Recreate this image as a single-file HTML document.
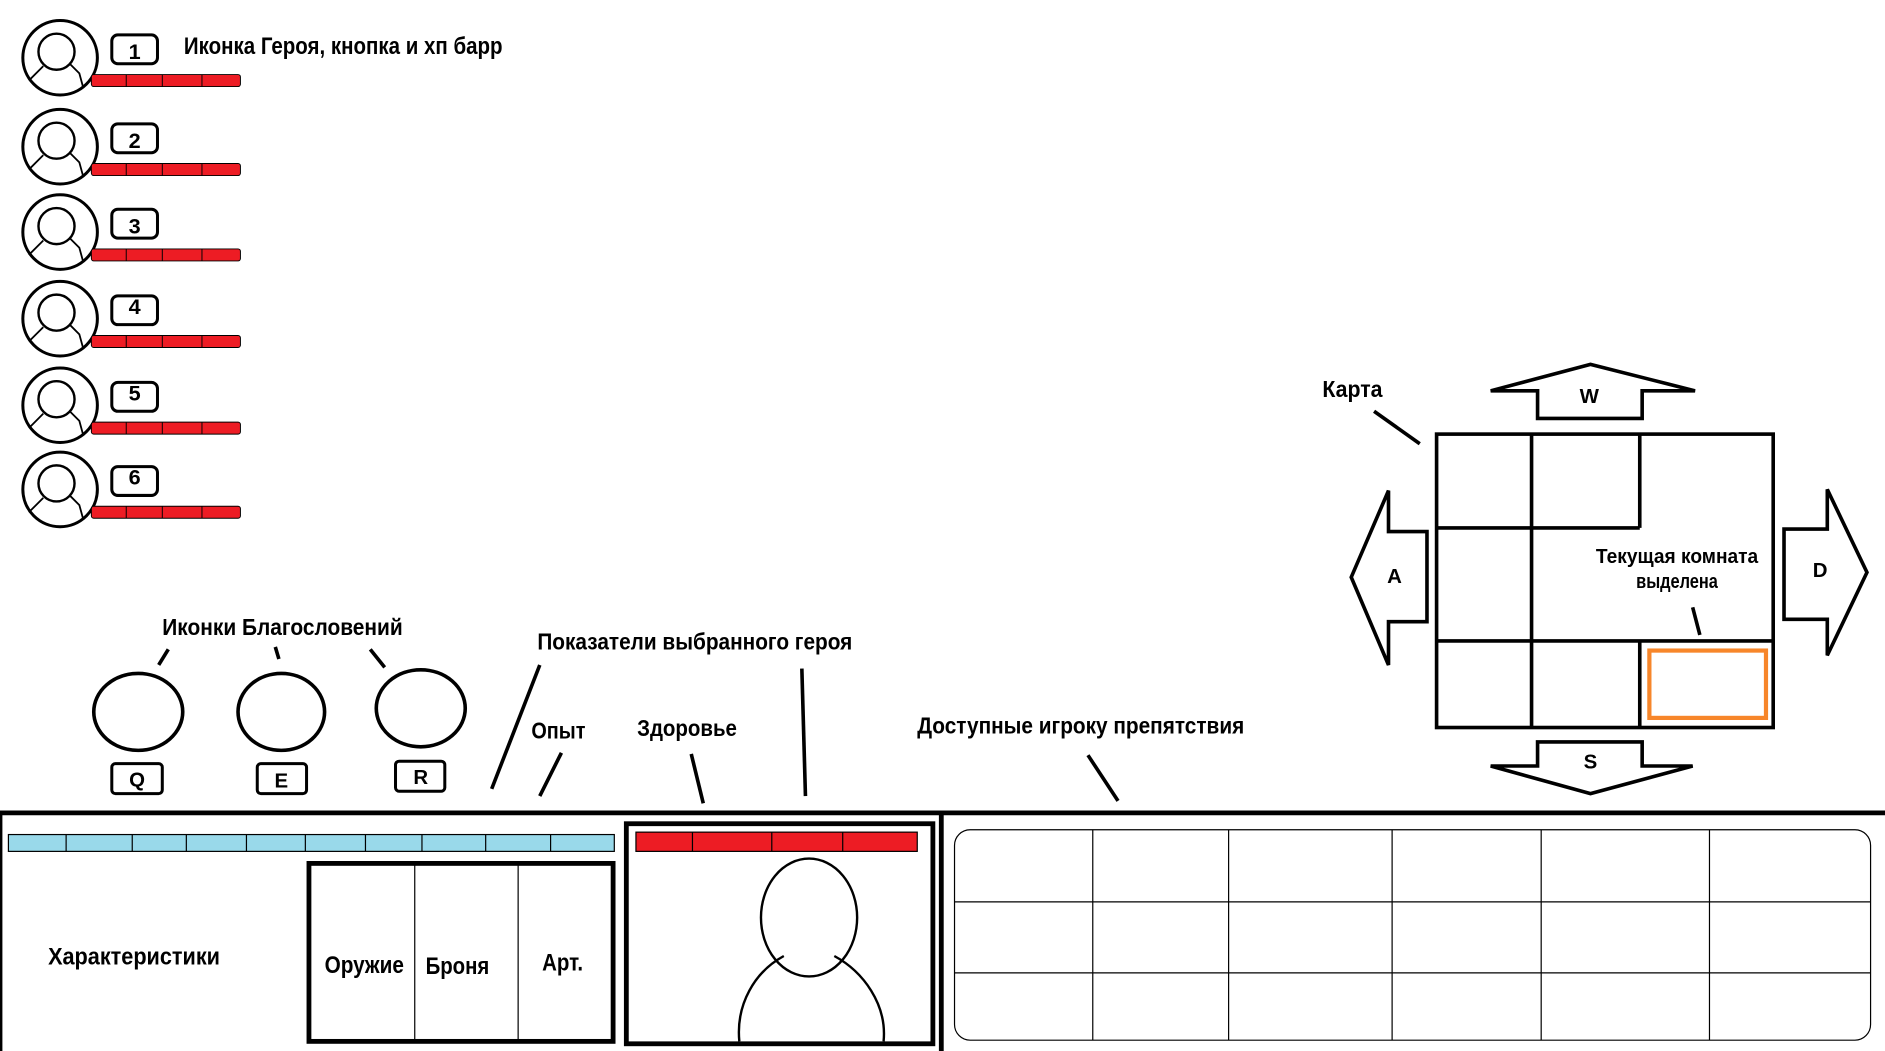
<!DOCTYPE html>
<html><head><meta charset="utf-8"><style>
html,body{margin:0;padding:0;background:#fff;}
svg{display:block}
text{font-family:"Liberation Sans Narrow","Liberation Sans","Noto Sans CJK SC",sans-serif;font-weight:bold;fill:#000}
</style></head><body>
<svg width="1885" height="1051" viewBox="0 0 1568 874" preserveAspectRatio="none" xmlns="http://www.w3.org/2000/svg">
<defs>
<g id="hero">
  <circle cx="50" cy="0" r="31" fill="#fff" stroke="#000" stroke-width="2.5"/>
  <circle cx="47" cy="-5" r="15" fill="none" stroke="#000" stroke-width="2"/>
  <path d="M36 7 L24 19 M58 5 L66 13 L69 24" fill="none" stroke="#000" stroke-width="1.5"/>
  <rect x="76" y="14" width="124" height="10" rx="2" fill="#ed1c24" stroke="#000" stroke-width="0.8"/>
  <line x1="105" y1="14" x2="105" y2="24" stroke="#000" stroke-width="0.8"/>
  <line x1="135" y1="14" x2="135" y2="24" stroke="#000" stroke-width="0.8"/>
  <line x1="168" y1="14" x2="168" y2="24" stroke="#000" stroke-width="0.8"/>
  <rect x="93" y="-19" width="38" height="24" rx="5" fill="#fff" stroke="#000" stroke-width="2.5"/>
</g>
</defs>
<rect width="1568" height="874" fill="#fff"/>
<g transform="translate(0,48)"><use href="#hero"/><text x="112" y="1" font-size="18" text-anchor="middle">1</text></g>
<g transform="translate(0,122)"><use href="#hero"/><text x="112" y="1" font-size="18" text-anchor="middle">2</text></g>
<g transform="translate(0,193)"><use href="#hero"/><text x="112" y="1" font-size="18" text-anchor="middle">3</text></g>
<g transform="translate(0,265)"><use href="#hero"/><text x="112" y="-4" font-size="18" text-anchor="middle">4</text></g>
<g transform="translate(0,337)"><use href="#hero"/><text x="112" y="-4" font-size="18" text-anchor="middle">5</text></g>
<g transform="translate(0,407)"><use href="#hero"/><text x="112" y="-4" font-size="18" text-anchor="middle">6</text></g>
<text x="153" y="45" font-size="20" textLength="265" lengthAdjust="spacingAndGlyphs">Иконка Героя, кнопка и хп барр</text>

<text x="135" y="528" font-size="19" textLength="200" lengthAdjust="spacingAndGlyphs">Иконки Благословений</text>
<g stroke="#000" stroke-width="3" fill="none">
<line x1="140" y1="540" x2="132" y2="553"/><line x1="229" y1="538" x2="232" y2="548"/><line x1="308" y1="540" x2="320" y2="555"/>
<ellipse cx="115" cy="592" rx="37" ry="32"/><ellipse cx="234" cy="592" rx="36" ry="32"/><ellipse cx="350" cy="589" rx="37" ry="32"/>
</g>
<g stroke="#000" stroke-width="2.5" fill="none">
<rect x="93" y="635" width="42" height="25" rx="3"/><rect x="214" y="635" width="41" height="25" rx="3"/><rect x="329" y="633" width="41" height="25" rx="3"/>
</g>
<text x="114" y="654" font-size="17" text-anchor="middle">Q</text>
<text x="234" y="655" font-size="17" text-anchor="middle">E</text>
<text x="350" y="652" font-size="17" text-anchor="middle">R</text>

<text x="447" y="540" font-size="19" textLength="262" lengthAdjust="spacingAndGlyphs">Показатели выбранного героя</text>
<text x="442" y="614" font-size="19" textLength="45" lengthAdjust="spacingAndGlyphs">Опыт</text>
<text x="530" y="612" font-size="19" textLength="83" lengthAdjust="spacingAndGlyphs">Здоровье</text>
<text x="763" y="610" font-size="19" textLength="272" lengthAdjust="spacingAndGlyphs">Доступные игроку препятствия</text>
<g stroke="#000" stroke-width="3">
<line x1="449" y1="553" x2="409" y2="656"/><line x1="667" y1="556" x2="670" y2="662"/>
<line x1="467" y1="626" x2="449" y2="662"/><line x1="575" y1="627" x2="585" y2="668"/>
<line x1="905" y1="628" x2="930" y2="666"/>
</g>

<line x1="0" y1="676" x2="1568" y2="676" stroke="#000" stroke-width="4"/>
<line x1="783" y1="676" x2="783" y2="874" stroke="#000" stroke-width="4"/>
<line x1="1" y1="676" x2="1" y2="874" stroke="#000" stroke-width="2"/>
<rect x="7" y="694" width="504" height="14" fill="#99d9ea" stroke="#000" stroke-width="1"/>
<g stroke="#000" stroke-width="1">
<line x1="55" y1="694" x2="55" y2="708"/><line x1="110" y1="694" x2="110" y2="708"/><line x1="155" y1="694" x2="155" y2="708"/><line x1="205" y1="694" x2="205" y2="708"/><line x1="254" y1="694" x2="254" y2="708"/><line x1="304" y1="694" x2="304" y2="708"/><line x1="351" y1="694" x2="351" y2="708"/><line x1="404" y1="694" x2="404" y2="708"/><line x1="458" y1="694" x2="458" y2="708"/>
</g>
<text x="40" y="802" font-size="20" textLength="143" lengthAdjust="spacingAndGlyphs">Характеристики</text>
<rect x="257" y="718" width="253" height="148" fill="none" stroke="#000" stroke-width="4"/>
<line x1="345" y1="718" x2="345" y2="866" stroke="#000" stroke-width="1"/>
<line x1="431" y1="718" x2="431" y2="866" stroke="#000" stroke-width="1"/>
<text x="270" y="809" font-size="20" textLength="66" lengthAdjust="spacingAndGlyphs">Оружие</text>
<text x="354" y="810" font-size="20" textLength="53" lengthAdjust="spacingAndGlyphs">Броня</text>
<text x="451" y="807" font-size="20" textLength="34" lengthAdjust="spacingAndGlyphs">Арт.</text>

<rect x="521" y="685" width="255" height="183" fill="none" stroke="#000" stroke-width="4"/>
<rect x="529" y="692" width="234" height="16" fill="#ed1c24" stroke="#000" stroke-width="1"/>
<g stroke="#000" stroke-width="1"><line x1="576" y1="692" x2="576" y2="708"/><line x1="642" y1="692" x2="642" y2="708"/><line x1="701" y1="692" x2="701" y2="708"/></g>
<ellipse cx="673" cy="763" rx="40" ry="49" fill="none" stroke="#000" stroke-width="2"/>
<path d="M615 866 C612 835 628 808 652 795 M694 795 C718 808 738 835 735 866" fill="none" stroke="#000" stroke-width="2"/>

<rect x="794" y="690" width="762" height="175" rx="13" fill="none" stroke="#000" stroke-width="1"/>
<g stroke="#000" stroke-width="1">
<line x1="909" y1="690" x2="909" y2="865"/><line x1="1022" y1="690" x2="1022" y2="865"/><line x1="1158" y1="690" x2="1158" y2="865"/><line x1="1282" y1="690" x2="1282" y2="865"/><line x1="1422" y1="690" x2="1422" y2="865"/>
<line x1="794" y1="750" x2="1556" y2="750"/><line x1="794" y1="809" x2="1556" y2="809"/>
</g>

<text x="1100" y="330" font-size="19" textLength="50" lengthAdjust="spacingAndGlyphs">Карта</text>
<line x1="1143" y1="342" x2="1181" y2="369" stroke="#000" stroke-width="3"/>
<g stroke="#000" stroke-width="3" fill="none">
<rect x="1195" y="361" width="280" height="244"/>
<line x1="1274" y1="361" x2="1274" y2="605"/>
<line x1="1195" y1="439" x2="1364" y2="439"/>
<line x1="1364" y1="361" x2="1364" y2="439"/>
<line x1="1195" y1="533" x2="1475" y2="533"/>
<line x1="1364" y1="533" x2="1364" y2="605"/>
</g>
<rect x="1372" y="541" width="97" height="56" fill="none" stroke="#f7862a" stroke-width="3.5"/>
<text x="1395" y="468" font-size="17" text-anchor="middle" textLength="135" lengthAdjust="spacingAndGlyphs">Текущая комната</text>
<text x="1395" y="489" font-size="17" text-anchor="middle" textLength="68" lengthAdjust="spacingAndGlyphs">выделена</text>
<line x1="1408" y1="505" x2="1414" y2="528" stroke="#000" stroke-width="3"/>
<g stroke="#000" stroke-width="3" fill="#fff" stroke-linejoin="miter">
<polygon points="1240,325 1323,303 1410,325 1366,325 1366,348 1279,348 1279,325"/>
<polygon points="1279,617 1366,617 1366,637 1408,637 1323,660 1240,637 1279,637"/>
<polygon points="1155,408 1155,442 1187,442 1187,517 1155,517 1155,553 1124,480"/>
<polygon points="1520,407 1553,476 1520,545 1520,515 1484,515 1484,440 1520,440"/>
</g>
<text x="1322" y="335" font-size="17" text-anchor="middle">W</text>
<text x="1323" y="639" font-size="17" text-anchor="middle">S</text>
<text x="1160" y="485" font-size="17" text-anchor="middle">A</text>
<text x="1514" y="480" font-size="17" text-anchor="middle">D</text>
</svg>
</body></html>
